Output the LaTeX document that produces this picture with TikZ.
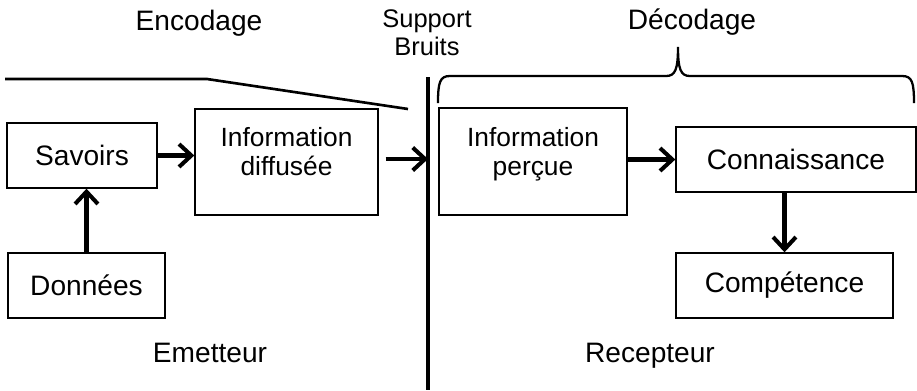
\documentclass[tikz,border=0pt]{standalone}
\usepackage{fontspec}
\setmainfont{Liberation Sans}
\usetikzlibrary{arrows.meta,calc}

\begin{document}
\begin{tikzpicture}[x=0.02cm, y=-0.02cm,
  box/.style={draw, line width=0.8pt, inner sep=0pt, font=\fontsize{16}{18}\selectfont},
  boxtxt/.style={inner sep=0pt, align=center, font=\fontsize{15}{16.4}\selectfont},
  lbl/.style={inner sep=0pt, font=\fontsize{16}{18}\selectfont},
  smalllbl/.style={inner sep=0pt, align=center, font=\fontsize{14.5}{16.4}\selectfont},
  arr/.style={line width=2.3pt, -{Straight Barb[length=7pt, width=13pt]}}]
  \useasboundingbox (0,0) rectangle (917,390);

  \node[box, minimum width=3cm, minimum height=1.3cm] (sav) at (82,155.5) {Savoirs};
  \node[box, minimum width=3.14cm, minimum height=1.3cm] (don) at (86.5,285.5) {Données};
  \node[box, minimum width=3.66cm, minimum height=2.12cm] (infod) at (286.5,162) {};
  \node[box, minimum width=3.76cm, minimum height=2.14cm] (infop) at (533,161.5) {};
  \node[box, minimum width=4.8cm, minimum height=1.3cm] (conn) at (796,159.5) {Connaissance};
  \node[box, minimum width=4.34cm, minimum height=1.3cm] (comp) at (784.5,285.5) {Compétence};

  \node[boxtxt, anchor=north] (infodtxt) at ($(infod.north)+(0,19)$) {Information\\diffusée};
  \node[boxtxt, anchor=north] (infoptxt) at ($(infop.north)+(0,20)$) {Information\\perçue};

  \node[lbl, anchor=base] (enc) at (199,30) {Encodage};
  \node[lbl, anchor=base] (dec) at (692,29) {Décodage};
  \node[smalllbl, anchor=north] (sup) at (427,9) {Support\\Bruits};
  \node[lbl, anchor=base] (emet) at (210,362) {Emetteur};
  \node[lbl, anchor=base] (recep) at (650,362) {Recepteur};

  \coordinate (septop) at (428,77);
  \coordinate (sepbot) at (428,390);
  \draw[line width=2.3pt] (septop) -- (sepbot);

  \draw[line width=1.5pt] (5,79) -- (207,79) -- (408,109);
  \draw[line width=1.3pt] (438,103) .. controls (438,82) and (440,76) .. (450,76) -- (666,76)
    .. controls (675,76) and (678,70) .. (678,47) .. controls (678,70) and (681,76) .. (690,76)
    -- (902,76) .. controls (912,76) and (914,82) .. (914,103);

  \draw[arr] (don.north) -- (don.north |- sav.south);
  \draw[arr] (sav.east) -- (sav.east -| infod.west);
  \draw[arr] ($(infod.east)+(7,-3)$) -- ($(infod.east -| septop)+(0,-3)$);
  \draw[arr] (infop.east |- conn.west) -- (conn.west);
  \draw[arr] (conn.south -| comp.north) -- (comp.north);
\end{tikzpicture}
\end{document}
